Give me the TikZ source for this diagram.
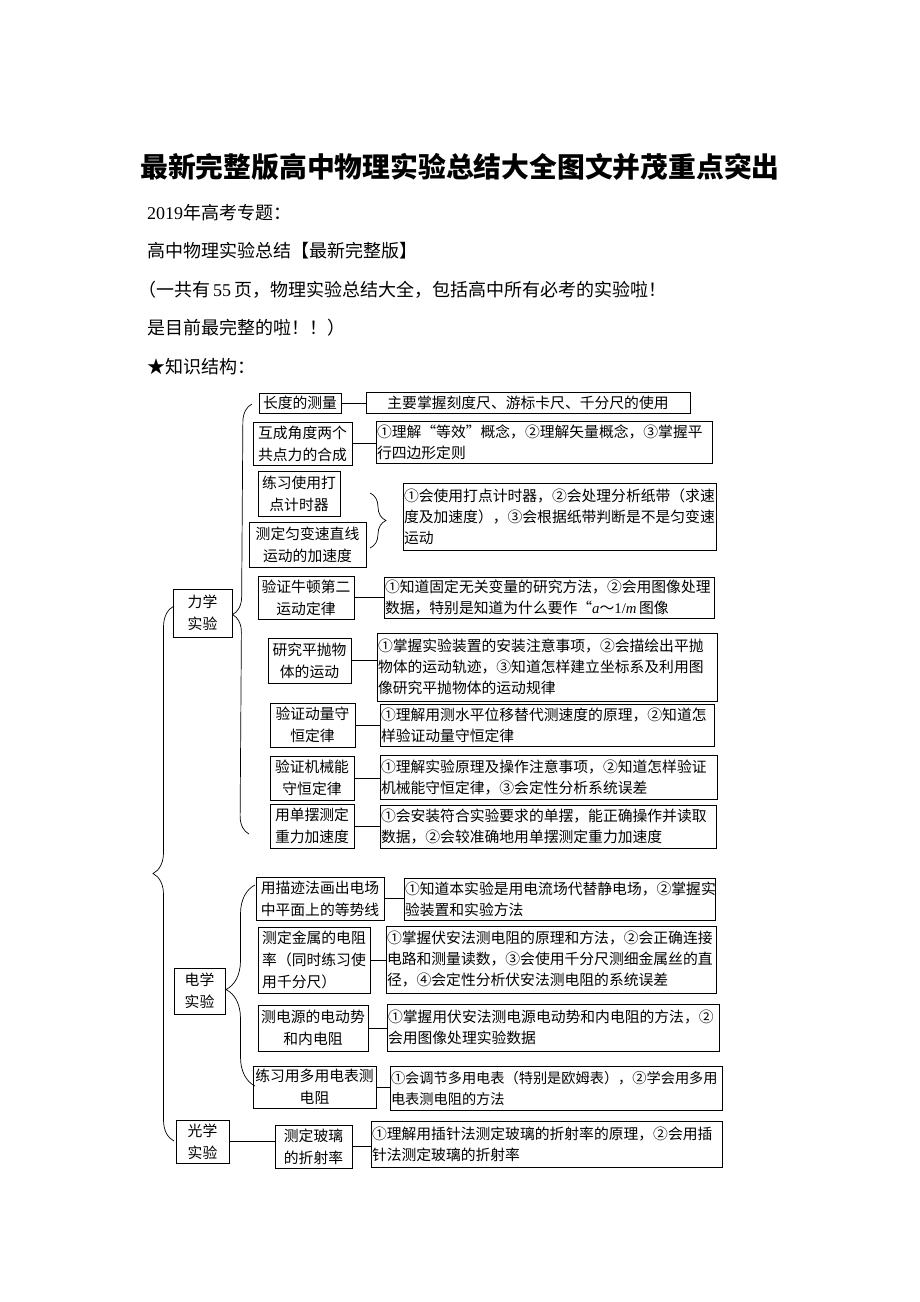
\documentclass[tikz,border=0pt]{standalone}
\usepackage{fontspec}
\setmainfont{Liberation Serif}
\newfontfamily\cjk{Noto Sans CJK SC}
\usetikzlibrary{decorations.pathreplacing}

\tikzset{
  lbl/.style={draw, line width=1pt, align=center, inner sep=1pt, font=\cjk\fontsize{14.8}{22}\selectfont},
  desc/.style={draw, line width=1pt, align=left, inner xsep=1pt, inner ysep=0pt, text width=#1, font=\cjk\fontsize{14.8}{21}\selectfont},
  link/.style={line width=1pt},
  curl/.style={decorate, decoration={brace, amplitude=#1}, line width=0.7pt},
  head/.style={anchor=west, inner sep=0pt, font=\cjk\fontsize{18}{18}\selectfont}
}

\begin{document}
\begin{tikzpicture}[x=1pt, y=-1pt]
    \useasboundingbox[fill=white] (0,0) rectangle (920,1302);

    \node[font=\cjk\bfseries\fontsize{27.8}{30}\selectfont] (title) at (460,167) {最新完整版高中物理实验总结大全图文并茂重点突出};
    \node[head] (h1) at (147,213) {{\rmfamily 2019}年高考专题：};
    \node[head] (h2) at (147,251) {高中物理实验总结【最新完整版】};
    \node[head] (h3) at (138,290) {（一共有\,{\rmfamily 55}\,页，物理实验总结大全，包括高中所有必考的实验啦！};
    \node[head] (h4) at (147,328) {是目前最完整的啦！！）};
    \node[head] (h5) at (147,367) {★知识结构：};

    \node[lbl, minimum width=82, minimum height=20] (L1) at (300,403) {长度的测量};
    \node[desc=322, minimum height=21, align=center] (D1) at (528,402.5) {主要掌握刻度尺、游标卡尺、千分尺的使用};

    \node[lbl, minimum width=99, minimum height=43] (L2) at (302.5,443.5) {互成角度两个\\共点力的合成};
    \node[desc=334, minimum height=42] (D2) at (544,442) {①理解“等效”概念，②理解矢量概念，③掌握平\\行四边形定则};

    \node[lbl, minimum width=82, minimum height=45] (L3a) at (299,493.5) {练习使用打\\点计时器};
    \node[lbl, minimum width=117, minimum height=45] (L3b) at (307.5,544.5) {测定匀变速直线\\运动的加速度};
    \node[desc=311, minimum height=67] (D3) at (559.5,516.5) {①会使用打点计时器，②会处理分析纸带（求速\\度及加速度），③会根据纸带判断是不是匀变速\\运动};

    \node[lbl, minimum width=96, minimum height=43] (L4) at (306,597.5) {验证牛顿第二\\运动定律};
    \node[desc=328, minimum height=41] (D4) at (549,597.5) {①知道固定无关变量的研究方法，②会用图像处理\\数据，特别是知道为什么要作“{\rmfamily\itshape a}～{\rmfamily 1/\itshape m}\,图像};

    \node[lbl, minimum width=59, minimum height=48] (LX) at (202.5,613) {力学\\实验};

    \node[lbl, minimum width=83, minimum height=45] (L5) at (309.5,660.5) {研究平抛物\\体的运动};
    \node[desc=338, minimum height=68] (D5) at (547,667) {①掌握实验装置的安装注意事项，②会描绘出平抛\\物体的运动轨迹，③知道怎样建立坐标系及利用图\\像研究平抛物体的运动规律};

    \node[lbl, minimum width=85, minimum height=44] (L6) at (312.5,725) {验证动量守\\恒定律};
    \node[desc=332, minimum height=42] (D6) at (547,725) {①理解用测水平位移替代测速度的原理，②知道怎\\样验证动量守恒定律};

    \node[lbl, minimum width=84, minimum height=44] (L7) at (312,778) {验证机械能\\守恒定律};
    \node[desc=335, minimum height=44] (D7) at (548.5,777) {①理解实验原理及操作注意事项，②知道怎样验证\\机械能守恒定律，③会定性分析系统误差};

    \node[lbl, minimum width=84, minimum height=44] (L8) at (312,826) {用单摆测定\\重力加速度};
    \node[desc=334, minimum height=43] (D8) at (548,826.5) {①会安装符合实验要求的单摆，能正确操作并读取\\数据，②会较准确地用单摆测定重力加速度};

    \node[lbl, minimum width=128, minimum height=43] (E1) at (320,898.5) {用描迹法画出电场\\中平面上的等势线};
    \node[desc=309, minimum height=42] (F1) at (559.5,899) {①知道本实验是用电流场代替静电场，②掌握实\\验装置和实验方法};

    \node[lbl, minimum width=112, minimum height=66, align=left] (E2) at (314,960) {测定金属的电阻\\率（同时练习使\\用千分尺）};
    \node[desc=328, minimum height=67] (F2) at (551,959.5) {①掌握伏安法测电阻的原理和方法，②会正确连接\\电路和测量读数，③会使用千分尺测细金属丝的直\\径，④会定性分析伏安法测电阻的系统误差};

    \node[lbl, minimum width=51, minimum height=46] (EX) at (199.5,991) {电学\\实验};

    \node[lbl, minimum width=110, minimum height=46] (E3) at (313,1028) {测电源的电动势\\和内电阻};
    \node[desc=330, minimum height=47] (F3) at (553,1027.5) {①掌握用伏安法测电源电动势和内电阻的方法，②\\会用图像处理实验数据};

    \node[lbl, minimum width=123, minimum height=42] (E4) at (314.5,1087) {练习用多用电表测\\电阻};
    \node[desc=330, minimum height=44, font=\cjk\fontsize{14.2}{21}\selectfont] (F4) at (556,1088) {①会调节多用电表（特别是欧姆表），②学会用多用\\电表测电阻的方法};

    \node[lbl, minimum width=53, minimum height=43] (OX) at (202.5,1141.5) {光学\\实验};
    \node[lbl, minimum width=77, minimum height=43] (O1) at (313.5,1146.5) {测定玻璃\\的折射率};
    \node[desc=349, minimum height=46] (G1) at (546.5,1144) {①理解用插针法测定玻璃的折射率的原理，②会用插\\针法测定玻璃的折射率};

    \foreach \a/\b in {L1/D1, L2/D2, L4/D4, L5/D5, L6/D6, L7/D7, L8/D8, E1/F1, E2/F2, E3/F3, E4/F4, O1/G1, OX/O1} {
      \draw[link] (\a.east) -- (\a.east -| \b.west);
    }

    \coordinate (mtop) at (252,404);
    \coordinate (mbot) at (249,834);
    \coordinate (ttop) at (370,493);
    \coordinate (tbot) at (370,548);
    \coordinate (etop) at (255,885);
    \coordinate (ebot) at (255,1086);
    \coordinate (otop) at (174,606);
    \coordinate (obot) at (174,1141);

    \draw[curl=18, decoration={aspect=0.51}] (mbot) -- (mtop);
    \draw[curl=16] (ttop) -- (tbot);
    \draw[curl=29, decoration={aspect=0.48}] (ebot) -- (etop);
    \draw[curl=21, decoration={aspect=0.5}] (obot) -- (otop);
\end{tikzpicture}
\end{document}
